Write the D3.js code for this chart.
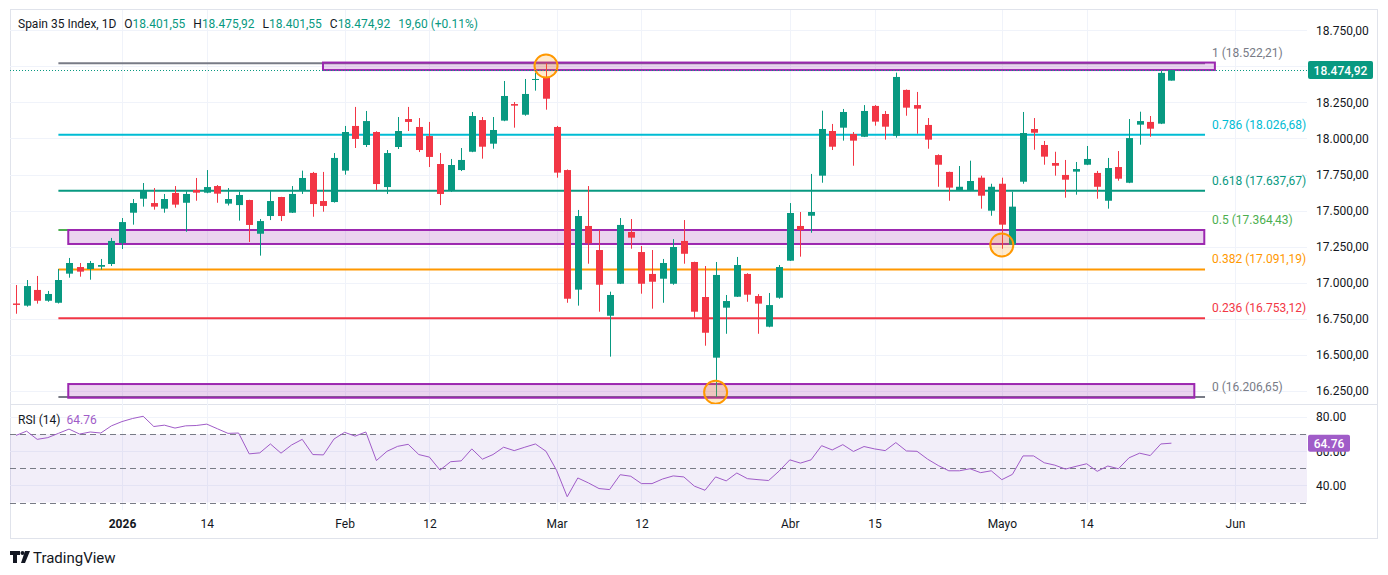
<!DOCTYPE html>
<html>
<head>
<meta charset="utf-8">
<script src="https://cdn.jsdelivr.net/npm/d3@7"></script>
<style>
  body { margin: 0; background: #fff; }
  svg text { font-family: Roboto, "Noto Sans", sans-serif; }
</style>
</head>
<body>
<svg id="chart" width="1388" height="575"></svg>
<script>
// daily bars, Spain 35 (index = trading day position)
var opens  = [16855,16840,16949,16874,16860,17062,17108,17094,17110,17129,17275,17485,17582,17552,17513,17622,17554,17643,17624,17670,
              17548,17538,17573,17339,17462,17594,17485,17636,17761,17566,17559,17777,18087,17955,18045,17663,17941,18135,18080,18017,
              17823,17636,17781,17908,18128,17964,18124,18239,18165,18406,18427,18080,17781,16951,17393,17226,16770,16992,17351,17212,
              17060,17027,16992,17289,17143,16900,16479,16826,16902,17060,16907,16694,16895,17152,17393,17464,17742,18052,18075,18031,
              18012,18226,18170,18019,18337,18232,18094,17885,17768,17638,17638,17728,17499,17686,17263,17700,18066,17955,17830,17747,
              17770,17818,17761,17568,17802,17693,18096,18115,18103,18401.55];
var highs  = [16983,17018,17046,16942,17094,17171,17136,17150,17164,17310,17448,17580,17691,17656,17615,17670,17634,17726,17781,17677,
              17656,17631,17575,17441,17636,17595,17670,17777,17768,17768,17899,18087,18219,18191,18050,17920,18149,18219,18142,18115,
              17899,17858,17934,18184,18149,18149,18399,18253,18413,18457,18522.21,18087,17785,17504,17670,17365,16937,17448,17441,17254,
              17226,17164,17302,17434,17145,17115,17143,16914,17178,17065,16920,16928,17122,17552,17490,17754,18193,18101,18205,18045,
              18232,18232,18191,18457,18340,18323,18142,17890,17770,17809,17846,17742,17686,17728,17631,18184,18142,17983,17908,17851,
              17837,17948,17775,17865,17913,18135,18186,18156,18468,18475.92];
var lows   = [16784,16833,16854,16867,16855,17034,17041,17020,17090,17115,17233,17402,17527,17506,17485,17520,17353,17568,17620,17554,
              17535,17430,17282,17187,17434,17427,17483,17615,17457,17492,17555,17749,17934,17941,17643,17615,17927,18052,17906,17802,
              17538,17630,17774,17905,17860,17929,18120,18075,18158,18332,18200,17728,16860,16840,17131,16798,16486,16990,17235,16923,
              16819,16860,16985,17131,16749,16562,16206.65,16645,16900,16867,16645,16690,16888,17150,17180,17346,17693,17920,17985,17811,
              18010,18089,17992,18006,18158,18033,17929,17665,17568,17635,17635,17513,17464,17235,17260,17686,17922,17818,17742,17589,
              17610,17815,17582,17513,17707,17690,17957,18012,18100,18401.55];
var closes = [16845,16976,16874,16921,17018,17136,17076,17136,17122,17289,17420,17552,17636,17527,17580,17541,17615,17624,17663,17617,
              17580,17608,17400,17427,17566,17462,17615,17726,17545,17532,17865,18045,17997,18121,17684,17899,18052,18115,17920,17872,
              17615,17816,17851,18156,17943,18059,18295,18228,18309,18413,18276,17763,16888,17462,17273,16985,16914,17400,17312,16992,
              17006,17136,17247,17200,16798,16652,17053,16872,17122,16916,16854,16844,17108,17483,17365,17490,18066,17943,18184,17985,
              18191,18117,18082,18427,18214,18207,17992,17818,17659,17665,17705,17603,17665,17402,17527,18038,18040,17874,17811,17714,
              17788,17858,17665,17795,17721,18003,18121,18068,18455.32,18474.92];

// RSI (14)
var rsi = [69.3,71.8,67.0,68.0,70.5,73.0,70.1,71.3,70.7,74.9,77.4,79.2,80.5,74.5,75.3,73.6,74.9,75.1,75.9,73.2,
           70.5,70.7,58.5,59.1,64.3,58.9,63.7,67.0,58.1,57.9,67.2,71.1,68.9,71.3,54.6,60.0,62.9,64.1,58.1,56.6,
           49.0,53.9,54.4,61.4,55.4,58.1,62.4,60.4,62.4,64.3,60.0,48.8,33.4,44.4,41.5,38.2,37.6,46.3,45.4,41.1,
           41.1,43.8,45.6,45.0,39.6,37.2,45.0,42.7,47.3,44.0,43.4,42.9,48.5,55.0,53.1,55.0,63.3,60.8,63.9,59.9,
           62.8,61.4,60.4,65.1,60.2,60.0,55.4,51.7,48.6,48.6,49.8,47.5,48.6,43.4,46.5,57.3,57.3,53.3,51.9,49.6,
           51.2,52.7,48.3,51.4,49.8,56.2,58.9,57.5,64.3,64.76];

// time axis
var tickIdx    = [10, 18, 31, 39, 51, 59, 73, 81, 93, 101, 115];
var tickLabels = ["2026", "14", "Feb", "12", "Mar", "12", "Abr", "15", "Mayo", "14", "Jun"];

// price / rsi axes
var priceTicks = [16250, 16500, 16750, 17000, 17250, 17500, 17750, 18000, 18250, 18500, 18750];
var rsiTicks   = [40, 60, 80];
var rsiLevels  = [70, 50, 30];

// fibonacci retracement
var fibRatios = ["0", "0.236", "0.382", "0.5", "0.618", "0.786", "1"];
var fibPrices = [16206.65, 16753.12, 17091.19, 17364.43, 17637.67, 18026.68, 18522.21];
var fibColors = ["#787b86", "#f23645", "#ff9800", "#4caf50", "#089981", "#00bcd4", "#787b86"];
var fibFrom = 4, fibTo = 112.17;

// support / resistance zones
var zoneFrom   = [28.96, 4.93, 4.93];
var zoneTo     = [113.1, 112.1, 111.16];
var zoneTop    = [18527, 17365, 16296];
var zoneBottom = [18475, 17268, 16201];

// highlighted turning points
var markIdx   = [50, 93, 66];
var markPrice = [18503, 17261, 16239];

var header = { name: "Spain 35 Index, 1D", o: "18.401,55", h: "18.475,92", l: "18.401,55", c: "18.474,92", chg: "19,60 (+0.11%)" };

var up = "#089981", down = "#f23645", textCol = "#131722", gridCol = "#f0f3fa", rsiCol = "#a05cc8";

var svg = d3.select("#chart");
var left = 10, right = 1307, paneTop = 10, paneBottom = 404, rsiTop = 405, rsiBottom = 510;

var x = d3.scaleLinear().domain([-0.566, 121.79]).range([left, right]);
var y = d3.scaleLinear().domain([16157.5, 18891.7]).range([paneBottom, paneTop]);
var yr = d3.scaleLinear().domain([25.65, 87.1]).range([rsiBottom, rsiTop]);

var es = d3.formatLocale({ decimal: ",", thousands: ".", grouping: [3], currency: ["", ""] });
var fmtPrice = es.format(",.2f");
var fmtRsi = d3.format(".2f");

svg.append("defs").append("clipPath").attr("id", "pane")
    .append("rect").attr("x", left).attr("y", paneTop).attr("width", right - left).attr("height", paneBottom - paneTop);

// frame
svg.append("rect").attr("x", 10.5).attr("y", 9.5).attr("width", 1367).attr("height", 529)
    .attr("fill", "none").attr("stroke", "#e0e3eb");
svg.append("line").attr("x1", 10).attr("x2", 1378).attr("y1", 404.5).attr("y2", 404.5).attr("stroke", "#e0e3eb");

// grid
var grid = svg.append("g");
grid.selectAll(".vg").data(tickIdx).enter().append("line")
    .attr("x1", function(d) { return Math.round(x(d)) + 0.5; })
    .attr("x2", function(d) { return Math.round(x(d)) + 0.5; })
    .attr("y1", paneTop).attr("y2", rsiBottom).attr("stroke", gridCol);
grid.selectAll(".hg").data(priceTicks).enter().append("line")
    .attr("x1", left).attr("x2", right)
    .attr("y1", function(d) { return Math.round(y(d)) + 0.5; })
    .attr("y2", function(d) { return Math.round(y(d)) + 0.5; })
    .attr("stroke", gridCol);

var main = svg.append("g").attr("clip-path", "url(#pane)");

// fib lines
main.selectAll(".fib").data(fibPrices).enter().append("line")
    .attr("x1", x(fibFrom)).attr("x2", x(fibTo))
    .attr("y1", function(d) { return y(d); }).attr("y2", function(d) { return y(d); })
    .attr("stroke", function(d, i) { return fibColors[i]; })
    .attr("stroke-width", 2);

// zones
main.selectAll(".zone").data(zoneTop).enter().append("rect")
    .attr("x", function(d, i) { return x(zoneFrom[i]); })
    .attr("width", function(d, i) { return x(zoneTo[i]) - x(zoneFrom[i]); })
    .attr("y", function(d) { return y(d); })
    .attr("height", function(d, i) { return y(zoneBottom[i]) - y(d); })
    .attr("fill", "rgba(156,39,176,0.2)")
    .attr("stroke", "#9c27b0").attr("stroke-width", 2);

// candles
var candles = main.selectAll(".candle").data(closes).enter().append("g");
candles.append("line")
    .attr("x1", function(d, i) { return Math.round(x(i)) + 0.5; })
    .attr("x2", function(d, i) { return Math.round(x(i)) + 0.5; })
    .attr("y1", function(d, i) { return y(highs[i]); })
    .attr("y2", function(d, i) { return y(lows[i]); })
    .attr("stroke", function(d, i) { return d >= opens[i] ? up : down; });
candles.append("rect")
    .attr("x", function(d, i) { return Math.round(x(i)) - 3; })
    .attr("width", 7)
    .attr("y", function(d, i) { return y(Math.max(d, opens[i])); })
    .attr("height", function(d, i) { return Math.max(1, Math.abs(y(d) - y(opens[i]))); })
    .attr("fill", function(d, i) { return d >= opens[i] ? up : down; });

// marks
main.selectAll(".mark").data(markIdx).enter().append("circle")
    .attr("cx", function(d) { return x(d); })
    .attr("cy", function(d, i) { return y(markPrice[i]); })
    .attr("r", 11.5)
    .attr("fill", "rgba(255,152,0,0.2)")
    .attr("stroke", "#ff9800").attr("stroke-width", 2);

// fib labels
svg.selectAll(".fibLabel").data(fibPrices).enter().append("text")
    .attr("x", x(fibTo) + 7)
    .attr("y", function(d) { return y(d) - 6; })
    .attr("font-size", 12)
    .attr("fill", function(d, i) { return fibColors[i]; })
    .text(function(d, i) { return fibRatios[i] + " (" + fmtPrice(d) + ")"; });

// last price line
var last = closes[closes.length - 1];
svg.append("line")
    .attr("x1", left).attr("x2", 1308)
    .attr("y1", Math.round(y(last)) + 0.5).attr("y2", Math.round(y(last)) + 0.5)
    .attr("stroke", up).attr("stroke-dasharray", "1,2");

// price axis
var pAxis = svg.append("g").attr("transform", "translate(1316,0)")
    .call(d3.axisRight(y).tickValues(priceTicks).tickFormat(fmtPrice).tickSize(0).tickPadding(0));
pAxis.select(".domain").remove();
pAxis.selectAll("text").attr("font-size", 12).attr("fill", textCol).style("font-family", "Roboto, sans-serif");

svg.append("rect").attr("x", 1308).attr("y", y(last) - 9).attr("width", 65).attr("height", 18)
    .attr("rx", 2).attr("fill", up);
svg.append("text").attr("x", 1340.5).attr("y", y(last) + 4.5).attr("text-anchor", "middle")
    .attr("font-size", 12).attr("font-weight", 500).attr("fill", "#fff").text(fmtPrice(last));

// header
var h = svg.append("text").attr("x", 18).attr("y", 28).attr("font-size", 12).attr("fill", textCol);
h.append("tspan").text(header.name);
[["O", header.o], ["H", header.h], ["L", header.l], ["C", header.c]].forEach(function(p) {
    h.append("tspan").attr("dx", 8).text(p[0]);
    h.append("tspan").attr("fill", up).text(p[1]);
});
h.append("tspan").attr("dx", 8).attr("fill", up).text(header.chg);

// RSI pane
var rp = svg.append("g");
rp.selectAll(".rg").data(rsiTicks).enter().append("line")
    .attr("x1", left).attr("x2", right)
    .attr("y1", function(d) { return Math.round(yr(d)) + 0.5; })
    .attr("y2", function(d) { return Math.round(yr(d)) + 0.5; })
    .attr("stroke", gridCol);
rp.append("rect").attr("x", left).attr("width", right - left)
    .attr("y", yr(70)).attr("height", yr(30) - yr(70))
    .attr("fill", "rgba(126,87,194,0.1)");
rp.selectAll(".lvl").data(rsiLevels).enter().append("line")
    .attr("x1", left).attr("x2", right)
    .attr("y1", function(d) { return Math.round(yr(d)) + 0.5; })
    .attr("y2", function(d) { return Math.round(yr(d)) + 0.5; })
    .attr("stroke", "#787b86").attr("stroke-dasharray", "6,4");
rp.append("path").datum(rsi)
    .attr("d", d3.line().x(function(d, i) { return x(i); }).y(function(d) { return yr(d); }))
    .attr("fill", "none").attr("stroke", rsiCol).attr("stroke-width", 1);

var rAxis = svg.append("g").attr("transform", "translate(1316,0)")
    .call(d3.axisRight(yr).tickValues(rsiTicks).tickFormat(fmtRsi).tickSize(0).tickPadding(0));
rAxis.select(".domain").remove();
rAxis.selectAll("text").attr("font-size", 12).attr("fill", textCol).style("font-family", "Roboto, sans-serif");

var lastRsi = rsi[rsi.length - 1];
svg.append("rect").attr("x", 1308).attr("y", yr(lastRsi) - 8.5).attr("width", 42).attr("height", 17)
    .attr("rx", 2).attr("fill", rsiCol);
svg.append("text").attr("x", 1329).attr("y", yr(lastRsi) + 4.5).attr("text-anchor", "middle")
    .attr("font-size", 12).attr("font-weight", 500).attr("fill", "#fff").text(fmtRsi(lastRsi));

var rl = svg.append("text").attr("x", 18).attr("y", 424).attr("font-size", 12).attr("fill", textCol);
rl.append("tspan").text("RSI (14)");
rl.append("tspan").attr("dx", 6).attr("fill", rsiCol).text(fmtRsi(lastRsi));

// time axis
var tAxis = svg.append("g").attr("transform", "translate(0," + rsiBottom + ")")
    .call(d3.axisBottom(x).tickValues(tickIdx).tickFormat(function(d, i) { return tickLabels[i]; }).tickSize(0).tickPadding(9));
tAxis.select(".domain").remove();
tAxis.selectAll("text").attr("font-size", 12).attr("fill", textCol).style("font-family", "Roboto, sans-serif")
    .attr("font-weight", function(d, i) { return i === 0 ? 700 : 400; });

// TradingView logo
var logo = svg.append("g").attr("fill", textCol);
logo.append("path").attr("d", "M10 551h10v4h-3v8h-4v-8h-3z");
logo.append("circle").attr("cx", 22.5).attr("cy", 553).attr("r", 2);
logo.append("path").attr("d", "M25 551h5l-5 12h-4z");
logo.append("text").attr("x", 33).attr("y", 562.5).attr("font-size", 15).attr("fill", textCol).text("TradingView");
</script>
</body>
</html>
